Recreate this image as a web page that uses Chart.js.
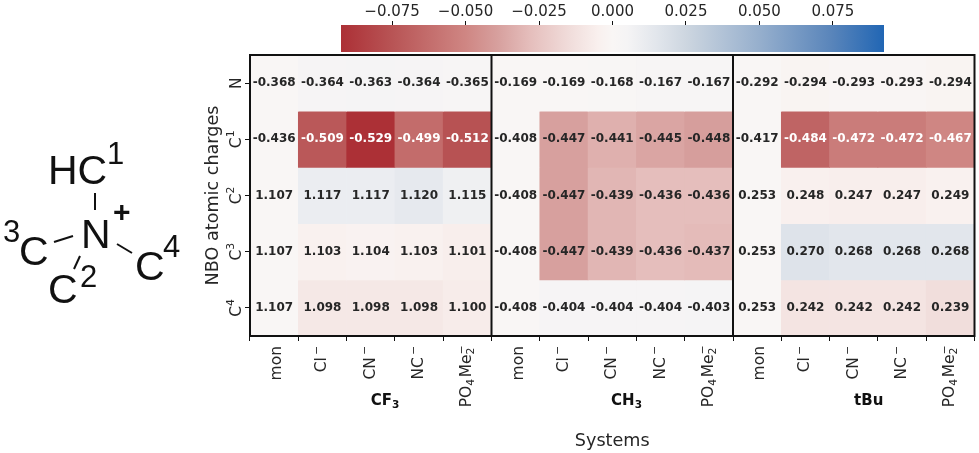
<!DOCTYPE html>
<html>
<head>
<meta charset="utf-8">
<script src="https://cdn.jsdelivr.net/npm/chart.js@4"></script>
<style>
  html, body { margin: 0; padding: 0; background: #fff; }
  #wrap { position: relative; width: 979px; height: 453px; overflow: hidden; }
  #wrap canvas, #wrap svg { position: absolute; left: 0; top: 0; }
  #mol text { font-family: "Liberation Sans", Arial, sans-serif; fill: #111; }
  #mol line { stroke: #111; stroke-width: 2; }
</style>
</head>
<body>
<div id="wrap">
  <canvas id="heat" width="979" height="453"></canvas>
  <canvas id="cbar" width="979" height="60"></canvas>
  <svg id="mol" width="200" height="453">
    <text x="48" y="184" font-size="41">HC</text>
    <text x="107" y="164" font-size="31">1</text>
    <text x="81" y="248" font-size="41">N</text>
    <text x="113" y="222" font-size="30" font-weight="bold">+</text>
    <text x="3" y="242" font-size="31">3</text>
    <text x="19" y="265" font-size="41">C</text>
    <text x="48" y="303" font-size="41">C</text>
    <text x="80" y="287" font-size="31">2</text>
    <text x="135" y="280" font-size="41">C</text>
    <text x="163" y="257" font-size="31">4</text>
    <line x1="95" y1="193" x2="95" y2="210"></line>
    <line x1="54" y1="242" x2="73" y2="236"></line>
    <line x1="80" y1="256" x2="74" y2="269"></line>
    <line x1="117" y1="244" x2="132" y2="253"></line>
  </svg>
</div>
<script>
// labels
const systems = ["mon", "Cl-", "CN-", "NC-", "PO4Me2-", "mon", "Cl-", "CN-", "NC-", "PO4Me2-", "mon", "Cl-", "CN-", "NC-", "PO4Me2-"];
const atoms = ["N", "C1", "C2", "C3", "C4"];
const groups = ["CF3", "CH3", "tBu"];

// NBO charges, one list per atom
const chargesN  = ["-0.368", "-0.364", "-0.363", "-0.364", "-0.365", "-0.169", "-0.169", "-0.168", "-0.167", "-0.167", "-0.292", "-0.294", "-0.293", "-0.293", "-0.294"];
const chargesC1 = ["-0.436", "-0.509", "-0.529", "-0.499", "-0.512", "-0.408", "-0.447", "-0.441", "-0.445", "-0.448", "-0.417", "-0.484", "-0.472", "-0.472", "-0.467"];
const chargesC2 = ["1.107", "1.117", "1.117", "1.120", "1.115", "-0.408", "-0.447", "-0.439", "-0.436", "-0.436", "0.253", "0.248", "0.247", "0.247", "0.249"];
const chargesC3 = ["1.107", "1.103", "1.104", "1.103", "1.101", "-0.408", "-0.447", "-0.439", "-0.436", "-0.437", "0.253", "0.270", "0.268", "0.268", "0.268"];
const chargesC4 = ["1.107", "1.098", "1.098", "1.098", "1.100", "-0.408", "-0.404", "-0.404", "-0.404", "-0.403", "0.253", "0.242", "0.242", "0.242", "0.239"];
const charges = [chargesN, chargesC1, chargesC2, chargesC3, chargesC4];

// colorbar
const cbarMin = -0.0924;
const cbarMax = 0.0924;
const cbarTicks = [-0.075, -0.05, -0.025, 0, 0.025, 0.05, 0.075];

const colorStops = [
  [-0.0924, [172, 48, 54]],
  [-0.075, [184, 84, 85]],
  [-0.05, [207, 134, 131]],
  [-0.039, [215, 160, 158]],
  [-0.028, [229, 190, 188]],
  [-0.014, [241, 222, 220]],
  [-0.005, [249, 240, 238]],
  [0, [249, 246, 245]],
  [0.005, [245, 244, 245]],
  [0.015, [226, 230, 236]],
  [0.025, [205, 214, 224]],
  [0.05, [150, 175, 205]],
  [0.075, [88, 132, 186]],
  [0.0924, [33, 102, 180]]
];

const FONT = '"DejaVu Sans", sans-serif';
const INK = "#262626";
const GROUP_SIZE = 5;
const TICK_SIZE = 15.5;
const SUB_GAP = 1.5;
const SUP_GAP = 2;

function colorFor(v) {
  if (v <= colorStops[0][0]) return `rgb(${colorStops[0][1].join(",")})`;
  for (let i = 1; i < colorStops.length; i++) {
    const [x0, c0] = colorStops[i - 1];
    const [x1, c1] = colorStops[i];
    if (v <= x1) {
      const t = (v - x0) / (x1 - x0);
      const c = c0.map((a, k) => Math.round(a + (c1[k] - a) * t));
      return `rgb(${c.join(",")})`;
    }
  }
  return `rgb(${colorStops[colorStops.length - 1][1].join(",")})`;
}

// cell colour is the shift from the "mon" column of the same group
function shiftFromMon(row, col) {
  const mon = col - (col % GROUP_SIZE);
  return Number(row[col]) - Number(row[mon]);
}

// split a label into base text, subscripts and superscripts
function mathParts(label) {
  if (label === "PO4Me2-") return [{ t: "PO" }, { t: "4", sub: true }, { t: "Me" }, { t: "2", sub: true, sup: "\u2212" }];
  if (label === "C1" || label === "C2" || label === "C3" || label === "C4") return [{ t: "C" }, { t: label[1], sup: true }];
  if (label === "CF3" || label === "CH3") return [{ t: label.slice(0, 2) }, { t: "3", sub: true }];
  if (label.endsWith("-")) return [{ t: label.slice(0, -1) }, { t: "\u2212", sup: true, gap: SUP_GAP }];
  return [{ t: label }];
}

function partsWidth(ctx, parts, size, weight) {
  let w = 0;
  parts.forEach((p) => {
    const small = p.sub || p.sup;
    ctx.font = `${weight} ${small ? size * 0.7 : size}px ${FONT}`;
    w += (p.gap || 0) + ctx.measureText(p.t).width + (p.sub ? SUB_GAP : 0);
  });
  return w;
}

// draws from (0,0) on the baseline going right
function drawParts(ctx, parts, size, weight) {
  let x = 0;
  parts.forEach((p) => {
    const small = p.sub || p.sup;
    ctx.font = `${weight} ${small ? size * 0.7 : size}px ${FONT}`;
    let y = 0;
    if (p.sub) y = size * 0.2;
    else if (p.sup) y = -size * 0.42;
    x += p.gap || 0;
    ctx.fillText(p.t, x, y);
    if (p.sub && p.sup) ctx.fillText(p.sup, x, -size * 0.42);
    x += ctx.measureText(p.t).width + (p.sub ? SUB_GAP : 0);
  });
}

const heatLabels = {
  id: "heatLabels",
  afterDatasetsDraw(chart) {
    const { ctx, scales: { x, y } } = chart;
    ctx.save();
    ctx.textAlign = "center";
    ctx.textBaseline = "middle";
    ctx.font = `bold 12px ${FONT}`;
    charges.forEach((row, r) => {
      row.forEach((text, c) => {
        ctx.fillStyle = Math.abs(shiftFromMon(row, c)) > 0.045 ? "#fff" : INK;
        ctx.fillText(text, x.getPixelForValue(c), y.getPixelForValue(r + 0.5));
      });
    });
    ctx.restore();
  },
  afterDraw(chart) {
    const { ctx, chartArea: area, scales: { x, y } } = chart;
    const step = x.getPixelForValue(1) - x.getPixelForValue(0);
    ctx.save();

    // frame and group separators
    ctx.strokeStyle = "#111";
    ctx.lineWidth = 2;
    ctx.strokeRect(area.left, area.top, area.right - area.left, area.bottom - area.top);
    groups.slice(1).forEach((g, i) => {
      const sx = x.getPixelForValue((i + 1) * GROUP_SIZE) - step / 2;
      ctx.beginPath();
      ctx.moveTo(sx, area.top);
      ctx.lineTo(sx, area.bottom);
      ctx.stroke();
    });

    ctx.fillStyle = INK;
    ctx.textAlign = "left";
    ctx.textBaseline = "alphabetic";

    // rotated x tick labels
    systems.forEach((label, i) => {
      const parts = mathParts(label);
      const w = partsWidth(ctx, parts, TICK_SIZE, "normal");
      ctx.save();
      ctx.translate(x.getPixelForValue(i) + (parts.length > 1 ? 4 : 7), area.bottom + 10 + w);
      ctx.rotate(-Math.PI / 2);
      drawParts(ctx, parts, TICK_SIZE, "normal");
      ctx.restore();
    });

    // rotated y tick labels
    atoms.forEach((label, i) => {
      const parts = mathParts(label);
      const w = partsWidth(ctx, parts, TICK_SIZE, "normal");
      ctx.save();
      ctx.translate(241, y.getPixelForValue(i + 0.5) + w / 2);
      ctx.rotate(-Math.PI / 2);
      drawParts(ctx, parts, TICK_SIZE, "normal");
      ctx.restore();
    });

    // group names below the ticks
    groups.forEach((label, i) => {
      const parts = mathParts(label);
      const w = partsWidth(ctx, parts, 15, "bold");
      const cx = x.getPixelForValue(i * GROUP_SIZE + 2) + 15;
      ctx.save();
      ctx.fillStyle = "#111";
      ctx.translate(cx - w / 2, 405);
      drawParts(ctx, parts, 15, "bold");
      ctx.restore();
    });
    ctx.restore();
  }
};

const heatDatasets = charges.map((row, r) => ({
  label: atoms[r],
  data: row.map(() => [r, r + 1]),
  backgroundColor: row.map((v, c) => colorFor(shiftFromMon(row, c))),
  borderWidth: 0,
  barPercentage: 1,
  categoryPercentage: 1,
  grouped: false
}));

new Chart(document.getElementById("heat"), {
  type: "bar",
  data: { labels: systems, datasets: heatDatasets },
  plugins: [heatLabels],
  options: {
    responsive: false,
    animation: false,
    layout: { padding: { left: 200, right: 4.5, top: 55, bottom: 0 } },
    plugins: { legend: { display: false }, tooltip: { enabled: false } },
    scales: {
      x: {
        ticks: { display: false, autoSkip: false },
        grid: { drawOnChartArea: false, drawTicks: true, tickLength: 5, tickColor: "#111", tickWidth: 1 },
        border: { display: false },
        title: { display: true, text: "Systems", color: INK, font: { family: FONT, size: 17.6 }, padding: { top: 0, bottom: 1 } },
        afterFit(scale) { scale.height = 117; }
      },
      y: {
        type: "linear",
        min: 0,
        max: atoms.length,
        reverse: true,
        ticks: { display: false },
        grid: { drawOnChartArea: false, drawTicks: true, tickLength: 5, tickColor: "#111", tickWidth: 1 },
        border: { display: false },
        title: { display: true, text: "NBO atomic charges", color: INK, font: { family: FONT, size: 17.6 }, padding: { top: 3, bottom: 0 } },
        afterBuildTicks(scale) { scale.ticks = atoms.map((a, i) => ({ value: i + 0.5 })); },
        afterFit(scale) { scale.width = 50; }
      }
    }
  }
});

new Chart(document.getElementById("cbar"), {
  type: "bar",
  data: {
    labels: ["shift"],
    datasets: [{
      data: [[cbarMin, cbarMax]],
      borderWidth: 0,
      barPercentage: 1,
      categoryPercentage: 1,
      backgroundColor(ctx) {
        const area = ctx.chart.chartArea;
        if (!area) return "#fff";
        const grad = ctx.chart.ctx.createLinearGradient(area.left, 0, area.right, 0);
        colorStops.forEach(([v, c]) => {
          grad.addColorStop((v - cbarMin) / (cbarMax - cbarMin), `rgb(${c.join(",")})`);
        });
        return grad;
      }
    }]
  },
  options: {
    indexAxis: "y",
    responsive: false,
    animation: false,
    layout: { padding: { left: 341, right: 95, top: 0, bottom: 8 } },
    plugins: { legend: { display: false }, tooltip: { enabled: false } },
    scales: {
      x: {
        type: "linear",
        position: "top",
        min: cbarMin,
        max: cbarMax,
        afterBuildTicks(scale) { scale.ticks = cbarTicks.map((v) => ({ value: v })); },
        afterFit(scale) { scale.height = 25; },
        ticks: {
          color: INK,
          padding: 0,
          maxRotation: 0,
          autoSkip: false,
          font: { family: FONT, size: 15 },
          callback: (v) => (v < 0 ? "\u2212" : "") + Math.abs(v).toFixed(3)
        },
        grid: { drawOnChartArea: false, drawTicks: true, tickLength: 4, tickColor: "#111" },
        border: { display: false }
      },
      y: { display: false }
    }
  }
});
</script>
</body>
</html>
